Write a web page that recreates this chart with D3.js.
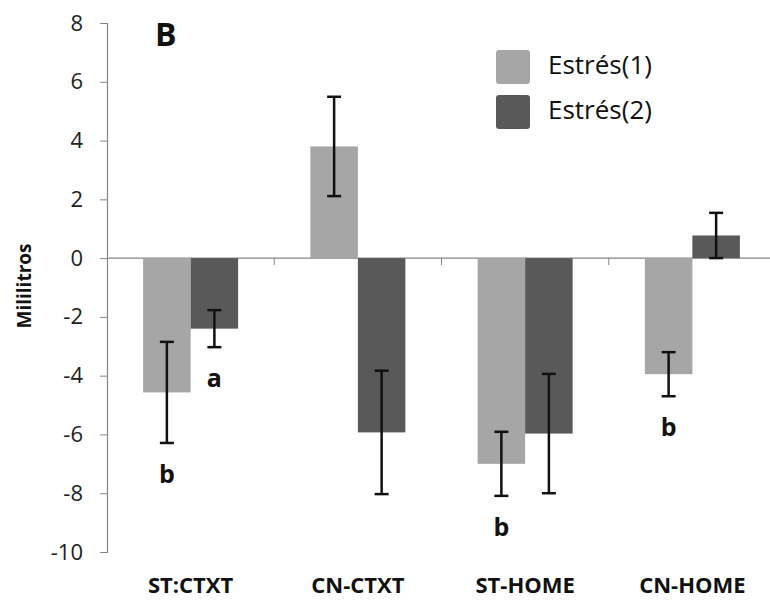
<!DOCTYPE html>
<html>
<head>
<meta charset="utf-8">
<script src="https://cdn.jsdelivr.net/npm/d3@7"></script>
<style>
  body { margin: 0; background: #fff; }
  text { font-family: "Open Sans", sans-serif; }
</style>
</head>
<body>
<div id="chart"></div>
<script>
const categories = ["ST:CTXT", "CN-CTXT", "ST-HOME", "CN-HOME"];
const series = ["Estrés(1)", "Estrés(2)"];
const values1 = [-4.57, 3.8, -7.0, -3.95];
const values2 = [-2.4, -5.93, -5.97, 0.77];
const errors1 = [1.72, 1.69, 1.09, 0.75];
const errors2 = [0.63, 2.1, 2.03, 0.77];
const yTicks = [8, 6, 4, 2, 0, -2, -4, -6, -8, -10];
// significance letters: [category, series index, letter]
const letters = [["ST:CTXT", 0, "b"], ["ST:CTXT", 1, "a"], ["ST-HOME", 0, "b"], ["CN-HOME", 0, "b"]];

const colors = ["#a6a6a6", "#595959"];
const width = 770, height = 601;

const svg = d3.select("#chart").append("svg")
  .attr("width", width)
  .attr("height", height);

const y = d3.scaleLinear().domain([-10, 8]).range([552, 23]);

const x0 = d3.scaleBand().domain(categories).range([107, 776]);
const x1 = d3.scaleBand().domain([0, 1]).range([0, x0.bandwidth()]).paddingOuter(0.76);

const data = [];
categories.forEach((c, i) => {
  data.push({ cat: c, s: 0, v: values1[i], e: errors1[i] });
  data.push({ cat: c, s: 1, v: values2[i], e: errors2[i] });
});

// zero line with category ticks
const xAxis = svg.append("g")
  .attr("transform", `translate(0,${y(0)})`);
xAxis.append("line")
  .attr("x1", x0.range()[0]).attr("x2", width)
  .attr("stroke", "#868686").attr("stroke-width", 1.2);
xAxis.selectAll(".ct")
  .data(categories.slice(1))
  .enter().append("line")
  .attr("x1", (d) => x0(d)).attr("x2", (d) => x0(d))
  .attr("y1", 0).attr("y2", 7)
  .attr("stroke", "#868686");

// y axis
const yAxis = svg.append("g")
  .attr("transform", `translate(${x0.range()[0]},0)`)
  .call(d3.axisLeft(y).tickValues(yTicks).tickSize(7).tickPadding(17).tickFormat((d) => String(d)));
yAxis.select(".domain").attr("stroke", "#868686").attr("stroke-width", 1.2);
yAxis.selectAll(".tick line").attr("stroke", "#868686");
yAxis.selectAll(".tick text")
  .style("font-family", "Open Sans, sans-serif")
  .style("font-size", "22px")
  .attr("fill", "#222");

// bars
svg.selectAll(".bar")
  .data(data)
  .enter().append("rect")
  .attr("x", (d) => x0(d.cat) + x1(d.s))
  .attr("width", x1.bandwidth())
  .attr("y", (d) => y(Math.max(0, d.v)))
  .attr("height", (d) => Math.abs(y(d.v) - y(0)))
  .attr("fill", (d) => colors[d.s]);

// error bars
const eb = svg.selectAll(".err")
  .data(data)
  .enter().append("g")
  .attr("transform", (d) => `translate(${x0(d.cat) + x1(d.s) + x1.bandwidth() / 2},0)`)
  .attr("stroke", "#111")
  .attr("stroke-width", 2.5);
eb.append("line")
  .attr("y1", (d) => y(d.v + d.e)).attr("y2", (d) => y(d.v - d.e));
eb.append("line")
  .attr("x1", -7).attr("x2", 7)
  .attr("y1", (d) => y(d.v + d.e)).attr("y2", (d) => y(d.v + d.e));
eb.append("line")
  .attr("x1", -7).attr("x2", 7)
  .attr("y1", (d) => y(d.v - d.e)).attr("y2", (d) => y(d.v - d.e));

// letters
svg.selectAll(".letter")
  .data(letters)
  .enter().append("text")
  .attr("x", (d) => x0(d[0]) + x1(d[1]) + x1.bandwidth() / 2)
  .attr("y", (d) => {
    const r = data.find((e) => e.cat === d[0] && e.s === d[1]);
    return y(r.v - r.e) + 33;
  })
  .attr("text-anchor", "middle")
  .attr("dominant-baseline", "middle")
  .style("font-size", "25px")
  .style("font-weight", "bold")
  .attr("fill", "#111")
  .text((d) => d[2]);

// category labels
svg.selectAll(".cat")
  .data(categories)
  .enter().append("text")
  .attr("x", (d) => x0(d) + x0.bandwidth() / 2)
  .attr("y", 593)
  .attr("text-anchor", "middle")
  .style("font-size", "22px")
  .style("font-weight", "bold")
  .attr("fill", "#111")
  .text((d) => d);

// y axis title
svg.append("text")
  .attr("transform", "translate(31,286) rotate(-90)")
  .attr("text-anchor", "middle")
  .style("font-size", "19px")
  .style("font-weight", "bold")
  .attr("fill", "#111")
  .text("Mililitros");

// panel letter
svg.append("text")
  .attr("x", 155)
  .attr("y", 46)
  .style("font-size", "32px")
  .style("font-weight", "bold")
  .attr("fill", "#111")
  .text("B");

// legend
const legend = svg.selectAll(".leg")
  .data(series)
  .enter().append("g")
  .attr("transform", (d, i) => `translate(496,${50 + i * 45})`);
legend.append("rect")
  .attr("width", 34).attr("height", 34)
  .attr("rx", 3)
  .attr("fill", (d, i) => colors[i]);
legend.append("text")
  .attr("x", 52).attr("y", 17)
  .attr("dominant-baseline", "middle")
  .style("font-size", "26px")
  .attr("fill", "#111")
  .text((d) => d);
</script>
</body>
</html>
